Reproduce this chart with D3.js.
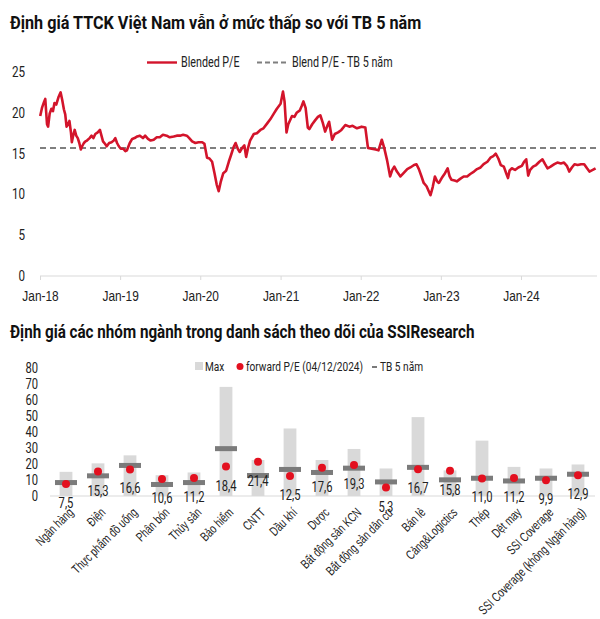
<!DOCTYPE html>
<html><head><meta charset="utf-8">
<script src="https://cdn.jsdelivr.net/npm/d3@7"></script>
<style>
html,body{margin:0;padding:0;background:#fff;}
svg{display:block;font-family:Roboto,"Liberation Sans",sans-serif;}
</style></head>
<body>
<svg id="c" width="600" height="619"></svg>
<script>
// ---------- DATA ----------
const chart1Title = "Định giá TTCK Việt Nam vẫn ở mức thấp so với TB 5 năm";
const chart2Title = "Định giá các nhóm ngành trong danh sách theo dõi của SSIResearch";
const peSeriesName = "Blended P/E";
const avgSeriesName = "Blend P/E - TB 5 năm";
const peAvg5y = 15.7;
const peYTicks = [0, 5, 10, 15, 20, 25];
const peXTickLabels = ["Jan-18","Jan-19","Jan-20","Jan-21","Jan-22","Jan-23","Jan-24"];
const peDates = ["2018-01-02","2018-01-10","2018-01-19","2018-01-25","2018-02-02","2018-02-07","2018-02-14","2018-02-22","2018-03-01","2018-03-08","2018-03-16","2018-03-26","2018-04-05","2018-04-12","2018-04-20","2018-04-26","2018-05-02","2018-05-09","2018-05-15","2018-05-22","2018-05-26","2018-06-01","2018-06-08","2018-06-15","2018-06-22","2018-06-29","2018-07-06","2018-07-12","2018-07-20","2018-07-27","2018-08-03","2018-08-15","2018-08-24","2018-09-01","2018-09-10","2018-09-21","2018-10-01","2018-10-08","2018-10-15","2018-10-24","2018-11-01","2018-11-12","2018-11-23","2018-12-03","2018-12-10","2018-12-18","2018-12-26","2019-01-04","2019-01-15","2019-01-25","2019-02-01","2019-02-14","2019-02-25","2019-03-08","2019-03-20","2019-04-01","2019-04-15","2019-04-25","2019-05-08","2019-05-20","2019-06-03","2019-06-17","2019-07-01","2019-07-15","2019-08-01","2019-08-15","2019-09-02","2019-09-16","2019-10-01","2019-10-15","2019-11-01","2019-11-12","2019-11-25","2019-12-10","2019-12-24","2020-01-10","2020-01-20","2020-02-01","2020-02-12","2020-02-24","2020-03-06","2020-03-16","2020-03-25","2020-04-03","2020-04-15","2020-04-28","2020-05-10","2020-05-20","2020-06-01","2020-06-10","2020-06-20","2020-06-29","2020-07-10","2020-07-20","2020-07-28","2020-08-05","2020-08-15","2020-09-01","2020-09-15","2020-10-01","2020-10-15","2020-11-01","2020-11-15","2020-12-01","2020-12-15","2021-01-01","2021-01-12","2021-01-19","2021-01-28","2021-02-05","2021-02-22","2021-03-05","2021-03-15","2021-03-30","2021-04-08","2021-04-15","2021-04-25","2021-05-05","2021-05-12","2021-05-25","2021-06-08","2021-06-20","2021-07-01","2021-07-12","2021-07-23","2021-08-02","2021-08-10","2021-08-20","2021-08-24","2021-09-05","2021-09-20","2021-10-05","2021-10-23","2021-11-10","2021-11-25","2021-12-15","2022-01-05","2022-01-22","2022-02-03","2022-02-20","2022-03-10","2022-03-23","2022-04-07","2022-04-18","2022-05-01","2022-05-15","2022-05-25","2022-06-03","2022-06-15","2022-07-01","2022-07-15","2022-08-01","2022-08-15","2022-09-01","2022-09-12","2022-09-23","2022-10-05","2022-10-15","2022-10-28","2022-11-15","2022-11-25","2022-12-05","2022-12-15","2022-12-23","2023-01-05","2023-01-20","2023-02-01","2023-02-10","2023-02-18","2023-03-05","2023-03-15","2023-03-30","2023-04-15","2023-05-01","2023-05-15","2023-06-01","2023-06-15","2023-07-01","2023-07-15","2023-08-01","2023-08-15","2023-08-28","2023-09-08","2023-09-20","2023-10-01","2023-10-15","2023-10-27","2023-11-03","2023-11-10","2023-11-20","2023-12-05","2023-12-20","2024-01-05","2024-01-15","2024-01-25","2024-02-03","2024-02-12","2024-02-25","2024-03-10","2024-03-25","2024-04-08","2024-04-20","2024-05-01","2024-05-15","2024-06-01","2024-06-15","2024-07-01","2024-07-15","2024-07-28","2024-08-08","2024-08-20","2024-09-01","2024-09-15","2024-10-01","2024-10-15","2024-10-28","2024-11-08","2024-11-23","2024-12-06"];
const peValues = [19.6,20.6,21.3,21.7,18.6,18.3,19.9,20.5,20.2,21.2,21.0,21.9,22.5,21.6,20.4,19.8,18.3,18.6,19.0,17.6,16.4,17.2,17.9,17.2,16.9,16.3,15.5,15.9,16.3,16.5,16.6,16.9,17.2,16.9,17.4,17.6,17.9,17.2,16.5,16.2,15.9,16.3,16.4,16.6,16.9,16.3,15.9,15.6,15.6,15.3,15.4,16.3,16.8,16.9,17.1,17.2,16.9,17.2,16.8,16.6,16.7,17.0,17.0,17.3,17.2,17.0,17.1,17.2,17.2,17.3,17.2,16.9,16.5,16.3,16.4,16.4,16.2,14.5,14.4,14.0,12.6,11.2,10.4,11.5,12.6,12.9,14.0,14.8,15.8,16.3,15.6,15.2,15.7,16.0,14.6,15.6,16.6,17.4,17.5,17.9,18.1,18.7,19.2,19.9,20.5,21.1,22.6,21.4,17.6,18.6,19.6,19.5,20.0,20.3,20.9,21.4,20.6,18.2,18.0,18.6,19.1,19.5,19.7,18.8,17.7,18.4,18.9,17.3,16.7,17.4,17.6,17.9,18.5,18.3,18.4,18.1,18.3,18.2,15.7,15.6,15.5,15.4,16.7,15.7,14.2,12.2,13.0,13.4,12.8,12.2,12.6,13.1,13.3,13.6,13.7,13.1,12.2,11.4,11.0,9.9,10.9,12.2,11.6,11.4,12.0,12.6,13.2,12.2,11.8,11.7,11.6,11.9,12.2,12.2,12.5,12.8,13.1,13.3,13.7,14.0,14.5,14.7,15.0,14.4,13.6,13.4,12.5,12.0,12.9,13.2,13.0,13.3,13.5,14.0,14.3,12.3,13.0,13.4,13.6,14.0,14.3,13.7,13.2,13.4,13.7,13.9,13.8,13.9,13.5,12.8,13.3,13.7,13.6,13.7,13.7,13.2,12.8,13.0,13.2];

const sectors = ["Ngân hàng","Điện","Thực phẩm đồ uống","Phân bón","Thủy sản","Bảo hiểm","CNTT","Dầu khí","Dược","Bất động sản KCN","Bất động sản dân cư","Bán lẻ","Cảng&Logictics","Thép","Dệt may","SSI Coverage","SSI Coverage (không Ngân hàng)"];
const sectorMax = [15.1,20.4,25.4,13.0,14.7,68.2,22.5,42.2,22.5,29.4,17.2,49.3,16.0,34.6,18.2,17.2,19.7];
const sectorForwardPE = [7.5,15.3,16.6,10.6,11.2,18.4,21.4,12.5,17.6,19.3,5.3,16.7,15.8,11.0,11.2,9.9,12.9];
const sectorAvg5y = [8.4,12.6,19.1,7.2,8.4,29.6,12.8,16.6,14.7,17.4,8.8,17.9,10.1,11.1,9.4,11.1,13.6];
const sectorYTicks = [0,10,20,30,40,50,60,70,80];
const legend2 = ["Max","forward P/E (04/12/2024)","TB 5 năm"];

// ---------- DRAW ----------
const svg = d3.select("#c");
const RED = "#d3142b", DOT = "#e3101f", GRAYBAR = "#d9d9d9", AVG = "#7b7b7b", AXIS = "#d9d9d9";
const SX = 0.8; // narrow-font emulation

function label(parent, x, y, str, size, anchor, weight, sx) {
  const g = parent.append("g").attr("transform", `translate(${x},${y}) scale(${sx||SX},1)`);
  return g.append("text").attr("x",0).attr("y",0).attr("font-size",size)
    .attr("text-anchor",anchor||"start").attr("font-weight",weight||"normal").attr("fill","#222").text(str);
}

// Titles
label(svg,10,29,chart1Title,18,"start","bold",0.9).attr("fill","#111");
label(svg,10,338,chart2Title,18,"start","bold",0.845).attr("fill","#111");

// ---- Chart 1 ----
const parse = d3.timeParse("%Y-%m-%d");
const peData = peDates.map((d,i)=>({date:parse(d), v:peValues[i]}));
const x1 = d3.scaleTime().domain([parse("2018-01-01"), parse("2025-01-01")]).range([40, 601.3]);
const y1 = d3.scaleLinear().domain([0,25]).range([276,72]);

// y labels
peYTicks.forEach(d => label(svg, 25, y1(d)+5, d, 14.5, "end"));

// x axis
const xTickDates = peXTickLabels.map((l,i)=>parse((2018+i)+"-01-01"));
const xAxis1 = d3.axisBottom(x1).tickValues(xTickDates).tickFormat((d,i)=>peXTickLabels[i]).tickSize(4).tickSizeOuter(0);
const gx1 = svg.append("g").attr("transform",`translate(0,${y1(0)})`).call(xAxis1);
gx1.select(".domain").attr("stroke",AXIS).attr("d",`M40,0H597`);
gx1.selectAll(".tick line").attr("stroke",AXIS);
gx1.selectAll(".tick text").attr("font-size",14.5).attr("fill","#222").attr("font-family",null)
  .attr("y",0).attr("dy",0).attr("transform",`translate(0,25) scale(0.82,1)`);

// avg dashed
svg.append("line").attr("x1",40).attr("x2",597).attr("y1",y1(peAvg5y)).attr("y2",y1(peAvg5y))
  .attr("stroke","#7f7f7f").attr("stroke-width",2).attr("stroke-dasharray","6,4");

// line
svg.append("path").datum(peData)
  .attr("d", d3.line().x(d=>x1(d.date)).y(d=>y1(d.v)))
  .attr("fill","none").attr("stroke",RED).attr("stroke-width",2.6).attr("stroke-linejoin","round");

// legend 1
svg.append("line").attr("x1",147).attr("x2",177).attr("y1",62.5).attr("y2",62.5).attr("stroke",RED).attr("stroke-width",2.4);
label(svg,181,67,peSeriesName,14.5,"start","normal",0.74);
svg.append("line").attr("x1",257).attr("x2",288).attr("y1",62.5).attr("y2",62.5).attr("stroke","#7f7f7f").attr("stroke-width",2).attr("stroke-dasharray","5,3");
label(svg,292,67,avgSeriesName,14.5,"start","normal",0.74);

// ---- Chart 2 ----
const x2 = d3.scaleBand().domain(sectors).range([50,594]).paddingInner(0.6).paddingOuter(0.3);
const y2 = d3.scaleLinear().domain([0,80]).range([496,368]);
const cx = s => x2(s) + x2.bandwidth()/2;

sectorYTicks.forEach(d => label(svg, 38, y2(d)+5, d, 14, "end"));

// max bars
svg.append("g").selectAll("rect").data(sectors).join("rect")
  .attr("x",s=>x2(s)).attr("width",x2.bandwidth())
  .attr("y",(s,i)=>y2(sectorMax[i])).attr("height",(s,i)=>y2(0)-y2(sectorMax[i]))
  .attr("fill",GRAYBAR);

// axis line + category labels
const xAxis2 = d3.axisBottom(x2).tickSize(0).tickSizeOuter(0);
const gx2 = svg.append("g").attr("transform",`translate(0,${y2(0)})`).call(xAxis2);
gx2.select(".domain").attr("stroke",AXIS).attr("d","M50,0H595");
gx2.selectAll(".tick text")
  .attr("font-family",null).attr("font-size",13).attr("fill","#222")
  .attr("text-anchor","end").attr("y",0).attr("dy","0.35em")
  .attr("transform",`translate(5,14) rotate(-45) scale(0.74,1)`);

// avg markers
svg.append("g").selectAll("rect").data(sectors).join("rect")
  .attr("x",s=>cx(s)-11).attr("width",22)
  .attr("y",(s,i)=>y2(sectorAvg5y[i])-2.5).attr("height",5)
  .attr("fill",AVG);

// forward P/E dots
svg.append("g").selectAll("circle").data(sectors).join("circle")
  .attr("cx",cx).attr("cy",(s,i)=>y2(sectorForwardPE[i])).attr("r",4)
  .attr("fill",DOT);

// data labels
const fmt = v => v.toFixed(1).replace(".",",");
sectors.forEach((s,i) => label(svg, cx(s), y2(sectorForwardPE[i])+24, fmt(sectorForwardPE[i]), 14, "middle"));

// legend 2
svg.append("rect").attr("x",195).attr("y",362).attr("width",8).attr("height",8).attr("fill",GRAYBAR);
label(svg,205,371,legend2[0],13.5,"start","normal",0.75);
svg.append("circle").attr("cx",240).attr("cy",366.5).attr("r",3.5).attr("fill",DOT);
label(svg,246,371,legend2[1],13.5,"start","normal",0.75);
svg.append("line").attr("x1",372).attr("x2",377).attr("y1",367).attr("y2",367).attr("stroke","#222").attr("stroke-width",1.2);
label(svg,380,371,legend2[2],13.5,"start","normal",0.75);
</script>
</body></html>
